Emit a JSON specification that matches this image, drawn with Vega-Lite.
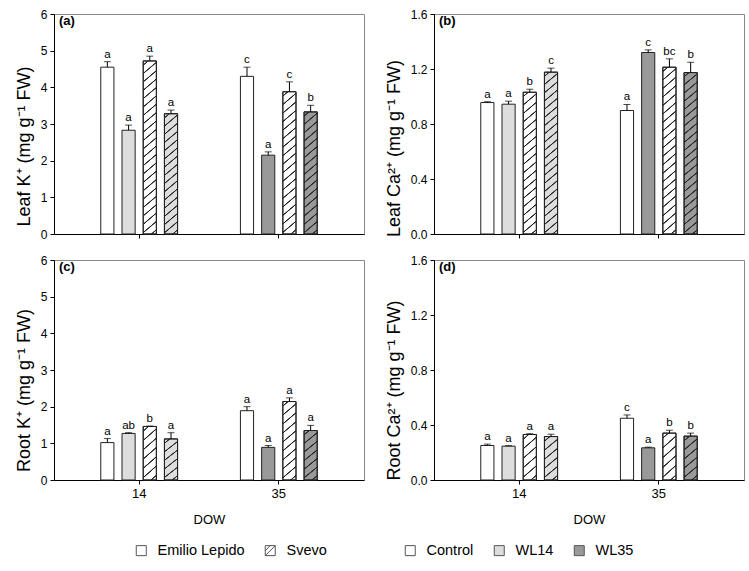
{
"$schema": "https://vega.github.io/schema/vega-lite/v6.json",
"padding": {"left": 14, "top": 7, "right": 11, "bottom": 5},
"params": [
{"name": "h174", "value": {"gradient":"linear","x1":0,"y1":0,"x2":0.06844,"y2":1.06014,"stops":[
{"offset":0.0173,"color":"transparent"},{"offset":0.0208,"color":"#222"},{"offset":0.0246,"color":"#222"},{"offset":0.0281,"color":"transparent"},
{"offset":0.0628,"color":"transparent"},{"offset":0.0663,"color":"#222"},{"offset":0.0701,"color":"#222"},{"offset":0.0736,"color":"transparent"},
{"offset":0.1082,"color":"transparent"},{"offset":0.1117,"color":"#222"},{"offset":0.1155,"color":"#222"},{"offset":0.1190,"color":"transparent"},
{"offset":0.1537,"color":"transparent"},{"offset":0.1572,"color":"#222"},{"offset":0.1610,"color":"#222"},{"offset":0.1645,"color":"transparent"},
{"offset":0.1991,"color":"transparent"},{"offset":0.2026,"color":"#222"},{"offset":0.2064,"color":"#222"},{"offset":0.2099,"color":"transparent"},
{"offset":0.2446,"color":"transparent"},{"offset":0.2481,"color":"#222"},{"offset":0.2519,"color":"#222"},{"offset":0.2554,"color":"transparent"},
{"offset":0.2901,"color":"transparent"},{"offset":0.2936,"color":"#222"},{"offset":0.2974,"color":"#222"},{"offset":0.3009,"color":"transparent"},
{"offset":0.3355,"color":"transparent"},{"offset":0.3390,"color":"#222"},{"offset":0.3428,"color":"#222"},{"offset":0.3463,"color":"transparent"},
{"offset":0.3810,"color":"transparent"},{"offset":0.3845,"color":"#222"},{"offset":0.3883,"color":"#222"},{"offset":0.3918,"color":"transparent"},
{"offset":0.4264,"color":"transparent"},{"offset":0.4299,"color":"#222"},{"offset":0.4337,"color":"#222"},{"offset":0.4372,"color":"transparent"},
{"offset":0.4719,"color":"transparent"},{"offset":0.4754,"color":"#222"},{"offset":0.4792,"color":"#222"},{"offset":0.4827,"color":"transparent"},
{"offset":0.5173,"color":"transparent"},{"offset":0.5208,"color":"#222"},{"offset":0.5246,"color":"#222"},{"offset":0.5281,"color":"transparent"},
{"offset":0.5628,"color":"transparent"},{"offset":0.5663,"color":"#222"},{"offset":0.5701,"color":"#222"},{"offset":0.5736,"color":"transparent"},
{"offset":0.6082,"color":"transparent"},{"offset":0.6117,"color":"#222"},{"offset":0.6155,"color":"#222"},{"offset":0.6190,"color":"transparent"},
{"offset":0.6537,"color":"transparent"},{"offset":0.6572,"color":"#222"},{"offset":0.6610,"color":"#222"},{"offset":0.6645,"color":"transparent"},
{"offset":0.6991,"color":"transparent"},{"offset":0.7026,"color":"#222"},{"offset":0.7064,"color":"#222"},{"offset":0.7099,"color":"transparent"},
{"offset":0.7446,"color":"transparent"},{"offset":0.7481,"color":"#222"},{"offset":0.7519,"color":"#222"},{"offset":0.7554,"color":"transparent"},
{"offset":0.7901,"color":"transparent"},{"offset":0.7936,"color":"#222"},{"offset":0.7974,"color":"#222"},{"offset":0.8009,"color":"transparent"},
{"offset":0.8355,"color":"transparent"},{"offset":0.8390,"color":"#222"},{"offset":0.8428,"color":"#222"},{"offset":0.8463,"color":"transparent"},
{"offset":0.8810,"color":"transparent"},{"offset":0.8845,"color":"#222"},{"offset":0.8883,"color":"#222"},{"offset":0.8918,"color":"transparent"},
{"offset":0.9264,"color":"transparent"},{"offset":0.9299,"color":"#222"},{"offset":0.9337,"color":"#222"},{"offset":0.9372,"color":"transparent"},
{"offset":0.9719,"color":"transparent"},{"offset":0.9754,"color":"#222"},{"offset":0.9792,"color":"#222"},{"offset":0.9827,"color":"transparent"}]}},
{"name": "h164", "value": {"gradient":"linear","x1":0,"y1":0,"x2":0.07262,"y2":1.06333,"stops":[
{"offset":0.0181,"color":"transparent"},{"offset":0.0218,"color":"#222"},{"offset":0.0258,"color":"#222"},{"offset":0.0295,"color":"transparent"},
{"offset":0.0657,"color":"transparent"},{"offset":0.0694,"color":"#222"},{"offset":0.0734,"color":"#222"},{"offset":0.0771,"color":"transparent"},
{"offset":0.1134,"color":"transparent"},{"offset":0.1171,"color":"#222"},{"offset":0.1211,"color":"#222"},{"offset":0.1248,"color":"transparent"},
{"offset":0.1610,"color":"transparent"},{"offset":0.1647,"color":"#222"},{"offset":0.1687,"color":"#222"},{"offset":0.1724,"color":"transparent"},
{"offset":0.2086,"color":"transparent"},{"offset":0.2123,"color":"#222"},{"offset":0.2163,"color":"#222"},{"offset":0.2200,"color":"transparent"},
{"offset":0.2562,"color":"transparent"},{"offset":0.2599,"color":"#222"},{"offset":0.2639,"color":"#222"},{"offset":0.2676,"color":"transparent"},
{"offset":0.3038,"color":"transparent"},{"offset":0.3075,"color":"#222"},{"offset":0.3115,"color":"#222"},{"offset":0.3152,"color":"transparent"},
{"offset":0.3514,"color":"transparent"},{"offset":0.3551,"color":"#222"},{"offset":0.3591,"color":"#222"},{"offset":0.3628,"color":"transparent"},
{"offset":0.3991,"color":"transparent"},{"offset":0.4028,"color":"#222"},{"offset":0.4068,"color":"#222"},{"offset":0.4105,"color":"transparent"},
{"offset":0.4467,"color":"transparent"},{"offset":0.4504,"color":"#222"},{"offset":0.4544,"color":"#222"},{"offset":0.4581,"color":"transparent"},
{"offset":0.4943,"color":"transparent"},{"offset":0.4980,"color":"#222"},{"offset":0.5020,"color":"#222"},{"offset":0.5057,"color":"transparent"},
{"offset":0.5419,"color":"transparent"},{"offset":0.5456,"color":"#222"},{"offset":0.5496,"color":"#222"},{"offset":0.5533,"color":"transparent"},
{"offset":0.5895,"color":"transparent"},{"offset":0.5932,"color":"#222"},{"offset":0.5972,"color":"#222"},{"offset":0.6009,"color":"transparent"},
{"offset":0.6372,"color":"transparent"},{"offset":0.6409,"color":"#222"},{"offset":0.6449,"color":"#222"},{"offset":0.6486,"color":"transparent"},
{"offset":0.6848,"color":"transparent"},{"offset":0.6885,"color":"#222"},{"offset":0.6925,"color":"#222"},{"offset":0.6962,"color":"transparent"},
{"offset":0.7324,"color":"transparent"},{"offset":0.7361,"color":"#222"},{"offset":0.7401,"color":"#222"},{"offset":0.7438,"color":"transparent"},
{"offset":0.7800,"color":"transparent"},{"offset":0.7837,"color":"#222"},{"offset":0.7877,"color":"#222"},{"offset":0.7914,"color":"transparent"},
{"offset":0.8276,"color":"transparent"},{"offset":0.8313,"color":"#222"},{"offset":0.8353,"color":"#222"},{"offset":0.8390,"color":"transparent"},
{"offset":0.8753,"color":"transparent"},{"offset":0.8790,"color":"#222"},{"offset":0.8830,"color":"#222"},{"offset":0.8867,"color":"transparent"},
{"offset":0.9229,"color":"transparent"},{"offset":0.9266,"color":"#222"},{"offset":0.9306,"color":"#222"},{"offset":0.9343,"color":"transparent"},
{"offset":0.9705,"color":"transparent"},{"offset":0.9742,"color":"#222"},{"offset":0.9782,"color":"#222"},{"offset":0.9819,"color":"transparent"}]}},
{"name": "h142", "value": {"gradient":"linear","x1":0,"y1":0,"x2":0.08438,"y2":1.07207,"stops":[
{"offset":0.0213,"color":"transparent"},{"offset":0.0255,"color":"#222"},{"offset":0.0301,"color":"#222"},{"offset":0.0343,"color":"transparent"},
{"offset":0.0768,"color":"transparent"},{"offset":0.0810,"color":"#222"},{"offset":0.0856,"color":"#222"},{"offset":0.0898,"color":"transparent"},
{"offset":0.1324,"color":"transparent"},{"offset":0.1366,"color":"#222"},{"offset":0.1412,"color":"#222"},{"offset":0.1454,"color":"transparent"},
{"offset":0.1879,"color":"transparent"},{"offset":0.1921,"color":"#222"},{"offset":0.1967,"color":"#222"},{"offset":0.2009,"color":"transparent"},
{"offset":0.2435,"color":"transparent"},{"offset":0.2477,"color":"#222"},{"offset":0.2523,"color":"#222"},{"offset":0.2565,"color":"transparent"},
{"offset":0.2991,"color":"transparent"},{"offset":0.3033,"color":"#222"},{"offset":0.3079,"color":"#222"},{"offset":0.3121,"color":"transparent"},
{"offset":0.3546,"color":"transparent"},{"offset":0.3588,"color":"#222"},{"offset":0.3634,"color":"#222"},{"offset":0.3676,"color":"transparent"},
{"offset":0.4102,"color":"transparent"},{"offset":0.4144,"color":"#222"},{"offset":0.4190,"color":"#222"},{"offset":0.4232,"color":"transparent"},
{"offset":0.4657,"color":"transparent"},{"offset":0.4699,"color":"#222"},{"offset":0.4745,"color":"#222"},{"offset":0.4787,"color":"transparent"},
{"offset":0.5213,"color":"transparent"},{"offset":0.5255,"color":"#222"},{"offset":0.5301,"color":"#222"},{"offset":0.5343,"color":"transparent"},
{"offset":0.5768,"color":"transparent"},{"offset":0.5810,"color":"#222"},{"offset":0.5856,"color":"#222"},{"offset":0.5898,"color":"transparent"},
{"offset":0.6324,"color":"transparent"},{"offset":0.6366,"color":"#222"},{"offset":0.6412,"color":"#222"},{"offset":0.6454,"color":"transparent"},
{"offset":0.6879,"color":"transparent"},{"offset":0.6921,"color":"#222"},{"offset":0.6967,"color":"#222"},{"offset":0.7009,"color":"transparent"},
{"offset":0.7435,"color":"transparent"},{"offset":0.7477,"color":"#222"},{"offset":0.7523,"color":"#222"},{"offset":0.7565,"color":"transparent"},
{"offset":0.7991,"color":"transparent"},{"offset":0.8033,"color":"#222"},{"offset":0.8079,"color":"#222"},{"offset":0.8121,"color":"transparent"},
{"offset":0.8546,"color":"transparent"},{"offset":0.8588,"color":"#222"},{"offset":0.8634,"color":"#222"},{"offset":0.8676,"color":"transparent"},
{"offset":0.9102,"color":"transparent"},{"offset":0.9144,"color":"#222"},{"offset":0.9190,"color":"#222"},{"offset":0.9232,"color":"transparent"},
{"offset":0.9657,"color":"transparent"},{"offset":0.9699,"color":"#222"},{"offset":0.9745,"color":"#222"},{"offset":0.9787,"color":"transparent"}]}},
{"name": "h121", "value": {"gradient":"linear","x1":0,"y1":0,"x2":0.09983,"y2":1.08298,"stops":[
{"offset":0.0238,"color":"transparent"},{"offset":0.0287,"color":"#222"},{"offset":0.0339,"color":"#222"},{"offset":0.0388,"color":"transparent"},
{"offset":0.0863,"color":"transparent"},{"offset":0.0912,"color":"#222"},{"offset":0.0964,"color":"#222"},{"offset":0.1013,"color":"transparent"},
{"offset":0.1488,"color":"transparent"},{"offset":0.1537,"color":"#222"},{"offset":0.1589,"color":"#222"},{"offset":0.1638,"color":"transparent"},
{"offset":0.2113,"color":"transparent"},{"offset":0.2162,"color":"#222"},{"offset":0.2214,"color":"#222"},{"offset":0.2263,"color":"transparent"},
{"offset":0.2738,"color":"transparent"},{"offset":0.2787,"color":"#222"},{"offset":0.2839,"color":"#222"},{"offset":0.2888,"color":"transparent"},
{"offset":0.3363,"color":"transparent"},{"offset":0.3412,"color":"#222"},{"offset":0.3464,"color":"#222"},{"offset":0.3513,"color":"transparent"},
{"offset":0.3988,"color":"transparent"},{"offset":0.4037,"color":"#222"},{"offset":0.4089,"color":"#222"},{"offset":0.4138,"color":"transparent"},
{"offset":0.4613,"color":"transparent"},{"offset":0.4662,"color":"#222"},{"offset":0.4714,"color":"#222"},{"offset":0.4763,"color":"transparent"},
{"offset":0.5238,"color":"transparent"},{"offset":0.5287,"color":"#222"},{"offset":0.5339,"color":"#222"},{"offset":0.5388,"color":"transparent"},
{"offset":0.5863,"color":"transparent"},{"offset":0.5912,"color":"#222"},{"offset":0.5964,"color":"#222"},{"offset":0.6013,"color":"transparent"},
{"offset":0.6488,"color":"transparent"},{"offset":0.6537,"color":"#222"},{"offset":0.6589,"color":"#222"},{"offset":0.6638,"color":"transparent"},
{"offset":0.7113,"color":"transparent"},{"offset":0.7162,"color":"#222"},{"offset":0.7214,"color":"#222"},{"offset":0.7263,"color":"transparent"},
{"offset":0.7738,"color":"transparent"},{"offset":0.7787,"color":"#222"},{"offset":0.7839,"color":"#222"},{"offset":0.7888,"color":"transparent"},
{"offset":0.8363,"color":"transparent"},{"offset":0.8412,"color":"#222"},{"offset":0.8464,"color":"#222"},{"offset":0.8513,"color":"transparent"},
{"offset":0.8988,"color":"transparent"},{"offset":0.9037,"color":"#222"},{"offset":0.9089,"color":"#222"},{"offset":0.9138,"color":"transparent"},
{"offset":0.9613,"color":"transparent"},{"offset":0.9662,"color":"#222"},{"offset":0.9714,"color":"#222"},{"offset":0.9763,"color":"transparent"}]}},
{"name": "h79", "value": {"gradient":"linear","x1":0,"y1":0,"x2":0.15956,"y2":1.11975,"stops":[
{"offset":0.0389,"color":"transparent"},{"offset":0.0461,"color":"#222"},{"offset":0.0539,"color":"#222"},{"offset":0.0611,"color":"transparent"},
{"offset":0.1389,"color":"transparent"},{"offset":0.1461,"color":"#222"},{"offset":0.1539,"color":"#222"},{"offset":0.1611,"color":"transparent"},
{"offset":0.2389,"color":"transparent"},{"offset":0.2461,"color":"#222"},{"offset":0.2539,"color":"#222"},{"offset":0.2611,"color":"transparent"},
{"offset":0.3389,"color":"transparent"},{"offset":0.3461,"color":"#222"},{"offset":0.3539,"color":"#222"},{"offset":0.3611,"color":"transparent"},
{"offset":0.4389,"color":"transparent"},{"offset":0.4461,"color":"#222"},{"offset":0.4539,"color":"#222"},{"offset":0.4611,"color":"transparent"},
{"offset":0.5389,"color":"transparent"},{"offset":0.5461,"color":"#222"},{"offset":0.5539,"color":"#222"},{"offset":0.5611,"color":"transparent"},
{"offset":0.6389,"color":"transparent"},{"offset":0.6461,"color":"#222"},{"offset":0.6539,"color":"#222"},{"offset":0.6611,"color":"transparent"},
{"offset":0.7389,"color":"transparent"},{"offset":0.7461,"color":"#222"},{"offset":0.7539,"color":"#222"},{"offset":0.7611,"color":"transparent"},
{"offset":0.8389,"color":"transparent"},{"offset":0.8461,"color":"#222"},{"offset":0.8539,"color":"#222"},{"offset":0.8611,"color":"transparent"},
{"offset":0.9389,"color":"transparent"},{"offset":0.9461,"color":"#222"},{"offset":0.9539,"color":"#222"},{"offset":0.9611,"color":"transparent"}]}},
{"name": "h52", "value": {"gradient":"linear","x1":0,"y1":0,"x2":0.25176,"y2":1.16213,"stops":[
{"offset":0.0555,"color":"transparent"},{"offset":0.0658,"color":"#222"},{"offset":0.0770,"color":"#222"},{"offset":0.0873,"color":"transparent"},
{"offset":0.1984,"color":"transparent"},{"offset":0.2087,"color":"#222"},{"offset":0.2199,"color":"#222"},{"offset":0.2302,"color":"transparent"},
{"offset":0.3412,"color":"transparent"},{"offset":0.3515,"color":"#222"},{"offset":0.3627,"color":"#222"},{"offset":0.3730,"color":"transparent"},
{"offset":0.4841,"color":"transparent"},{"offset":0.4944,"color":"#222"},{"offset":0.5056,"color":"#222"},{"offset":0.5159,"color":"transparent"},
{"offset":0.6270,"color":"transparent"},{"offset":0.6373,"color":"#222"},{"offset":0.6485,"color":"#222"},{"offset":0.6588,"color":"transparent"},
{"offset":0.7698,"color":"transparent"},{"offset":0.7801,"color":"#222"},{"offset":0.7913,"color":"#222"},{"offset":0.8016,"color":"transparent"},
{"offset":0.9127,"color":"transparent"},{"offset":0.9230,"color":"#222"},{"offset":0.9342,"color":"#222"},{"offset":0.9445,"color":"transparent"}]}},
{"name": "h45", "value": {"gradient":"linear","x1":0,"y1":0,"x2":0.29627,"y2":1.17716,"stops":[
{"offset":0.0653,"color":"transparent"},{"offset":0.0770,"color":"#222"},{"offset":0.0896,"color":"#222"},{"offset":0.1013,"color":"transparent"},
{"offset":0.2320,"color":"transparent"},{"offset":0.2437,"color":"#222"},{"offset":0.2563,"color":"#222"},{"offset":0.2680,"color":"transparent"},
{"offset":0.3987,"color":"transparent"},{"offset":0.4104,"color":"#222"},{"offset":0.4230,"color":"#222"},{"offset":0.4347,"color":"transparent"},
{"offset":0.5653,"color":"transparent"},{"offset":0.5770,"color":"#222"},{"offset":0.5896,"color":"#222"},{"offset":0.6013,"color":"transparent"},
{"offset":0.7320,"color":"transparent"},{"offset":0.7437,"color":"#222"},{"offset":0.7563,"color":"#222"},{"offset":0.7680,"color":"transparent"},
{"offset":0.8987,"color":"transparent"},{"offset":0.9104,"color":"#222"},{"offset":0.9230,"color":"#222"},{"offset":0.9347,"color":"transparent"}]}}
],
"data": {"values": [
{"p":"a","dow":"14","slot":"EL-C","cult":"Emilio Lepido","trt":"Control","v":4.55,"hi":4.70,"lab":"a"},
{"p":"a","dow":"14","slot":"EL-WL","cult":"Emilio Lepido","trt":"WL14","v":2.83,"hi":2.97,"lab":"a"},
{"p":"a","dow":"14","slot":"SV-C","cult":"Svevo","trt":"Control","v":4.72,"hi":4.85,"lab":"a"},
{"p":"a","dow":"14","slot":"SV-WL","cult":"Svevo","trt":"WL14","v":3.28,"hi":3.38,"lab":"a"},
{"p":"a","dow":"35","slot":"EL-C","cult":"Emilio Lepido","trt":"Control","v":4.30,"hi":4.55,"lab":"c"},
{"p":"a","dow":"35","slot":"EL-WL","cult":"Emilio Lepido","trt":"WL35","v":2.15,"hi":2.24,"lab":"a"},
{"p":"a","dow":"35","slot":"SV-C","cult":"Svevo","trt":"Control","v":3.88,"hi":4.15,"lab":"c"},
{"p":"a","dow":"35","slot":"SV-WL","cult":"Svevo","trt":"WL35","v":3.33,"hi":3.51,"lab":"b"},
{"p":"b","dow":"14","slot":"EL-C","cult":"Emilio Lepido","trt":"Control","v":0.956,"hi":0.962,"lab":"a"},
{"p":"b","dow":"14","slot":"EL-WL","cult":"Emilio Lepido","trt":"WL14","v":0.944,"hi":0.966,"lab":"a"},
{"p":"b","dow":"14","slot":"SV-C","cult":"Svevo","trt":"Control","v":1.031,"hi":1.053,"lab":"b"},
{"p":"b","dow":"14","slot":"SV-WL","cult":"Svevo","trt":"WL14","v":1.177,"hi":1.206,"lab":"c"},
{"p":"b","dow":"35","slot":"EL-C","cult":"Emilio Lepido","trt":"Control","v":0.898,"hi":0.942,"lab":"a"},
{"p":"b","dow":"35","slot":"EL-WL","cult":"Emilio Lepido","trt":"WL35","v":1.320,"hi":1.339,"lab":"c"},
{"p":"b","dow":"35","slot":"SV-C","cult":"Svevo","trt":"Control","v":1.213,"hi":1.274,"lab":"bc"},
{"p":"b","dow":"35","slot":"SV-WL","cult":"Svevo","trt":"WL35","v":1.174,"hi":1.249,"lab":"b"},
{"p":"c","dow":"14","slot":"EL-C","cult":"Emilio Lepido","trt":"Control","v":1.02,"hi":1.13,"lab":"a"},
{"p":"c","dow":"14","slot":"EL-WL","cult":"Emilio Lepido","trt":"WL14","v":1.27,"hi":1.29,"lab":"ab"},
{"p":"c","dow":"14","slot":"SV-C","cult":"Svevo","trt":"Control","v":1.46,"hi":1.47,"lab":"b"},
{"p":"c","dow":"14","slot":"SV-WL","cult":"Svevo","trt":"WL14","v":1.12,"hi":1.29,"lab":"a"},
{"p":"c","dow":"35","slot":"EL-C","cult":"Emilio Lepido","trt":"Control","v":1.89,"hi":2.00,"lab":"a"},
{"p":"c","dow":"35","slot":"EL-WL","cult":"Emilio Lepido","trt":"WL35","v":0.89,"hi":0.94,"lab":"a"},
{"p":"c","dow":"35","slot":"SV-C","cult":"Svevo","trt":"Control","v":2.14,"hi":2.24,"lab":"a"},
{"p":"c","dow":"35","slot":"SV-WL","cult":"Svevo","trt":"WL35","v":1.35,"hi":1.49,"lab":"a"},
{"p":"d","dow":"14","slot":"EL-C","cult":"Emilio Lepido","trt":"Control","v":0.251,"hi":0.261,"lab":"a"},
{"p":"d","dow":"14","slot":"EL-WL","cult":"Emilio Lepido","trt":"WL14","v":0.246,"hi":0.250,"lab":"a"},
{"p":"d","dow":"14","slot":"SV-C","cult":"Svevo","trt":"Control","v":0.331,"hi":0.337,"lab":"a"},
{"p":"d","dow":"14","slot":"SV-WL","cult":"Svevo","trt":"WL14","v":0.316,"hi":0.333,"lab":"a"},
{"p":"d","dow":"35","slot":"EL-C","cult":"Emilio Lepido","trt":"Control","v":0.449,"hi":0.473,"lab":"c"},
{"p":"d","dow":"35","slot":"EL-WL","cult":"Emilio Lepido","trt":"WL35","v":0.234,"hi":0.239,"lab":"a"},
{"p":"d","dow":"35","slot":"SV-C","cult":"Svevo","trt":"Control","v":0.341,"hi":0.362,"lab":"b"},
{"p":"d","dow":"35","slot":"SV-WL","cult":"Svevo","trt":"WL35","v":0.319,"hi":0.341,"lab":"b"}
]},
"spacing": 12,
"vconcat": [
{"hconcat": [
{"width": 310, "height": 220,
 "title": {"text": "(a)", "anchor": "start", "frame": "group", "offset": -20, "dx": 5, "baseline": "top", "fontSize": 13, "fontWeight": "bold"},
 "transform": [{"filter": "datum.p == 'a'"}],
 "encoding": {
  "x": {"field": "dow", "type": "nominal", "scale": {"paddingInner": 0.45, "paddingOuter": 0.335}, "axis": {"labels": false, "title": null}},
  "xOffset": {"field": "slot", "type": "nominal", "scale": {"domain": ["EL-C","EL-WL","SV-C","SV-WL"], "paddingInner": 0.38, "paddingOuter": 0}},
  "y": {"field": "v", "type": "quantitative", "title": "Leaf K⁺ (mg g⁻¹ FW)", "scale": {"domain": [0, 6], "nice": false}, "axis": {"values": [0,1,2,3,4,5,6], "titleY": 132}}
 },
 "layer": [
  {"mark": {"type": "bar", "stroke": "#222", "strokeWidth": 1},
   "encoding": {"fill": {"field": "trt", "type": "nominal", "scale": {"domain": ["Control","WL14","WL35"], "range": ["#ffffff","#dddddd","#999999"]}, "legend": {"title": null, "orient": "none", "legendX": 349, "legendY": 529, "direction": "horizontal"}}}},
  {"transform": [{"filter": "datum.cult == 'Svevo'"}],
   "mark": {"type": "bar", "stroke": "#222", "strokeWidth": 1},
   "encoding": {"fill": {"condition": [{"test": "datum.v > 4.5", "value": {"expr": "h174"}}, {"test": "datum.v > 3.6", "value": {"expr": "h142"}}], "value": {"expr": "h121"}}}},
  {"mark": {"type": "rule", "color": "#000", "strokeWidth": 1}, "encoding": {"y2": {"field": "hi"}}},
  {"mark": {"type": "tick", "orient": "horizontal", "size": 7, "thickness": 1, "color": "#000"}, "encoding": {"y": {"field": "hi", "type": "quantitative", "title": "Leaf K⁺ (mg g⁻¹ FW)"}}},
  {"mark": {"type": "text", "dy": -4, "baseline": "alphabetic", "fontSize": 11.5, "color": "#000"}, "encoding": {"y": {"field": "hi", "type": "quantitative", "title": "Leaf K⁺ (mg g⁻¹ FW)"}, "text": {"field": "lab"}}},
  {"mark": {"type": "point", "opacity": 0, "filled": false, "color": "#555"},
   "encoding": {"shape": {"field": "cult", "type": "nominal", "scale": {"domain": ["Emilio Lepido","Svevo"], "range": ["square", "M-1,-1H1V1H-1ZM-1,1L1,-1M-1,0L0,-1"]}, "legend": {"title": null, "orient": "none", "legendX": 80, "legendY": 529, "direction": "horizontal"}}}}
 ]},
{"width": 310, "height": 220,
 "title": {"text": "(b)", "anchor": "start", "frame": "group", "offset": -20, "dx": 5, "baseline": "top", "fontSize": 13, "fontWeight": "bold"},
 "transform": [{"filter": "datum.p == 'b'"}],
 "encoding": {
  "x": {"field": "dow", "type": "nominal", "scale": {"paddingInner": 0.45, "paddingOuter": 0.335}, "axis": {"labels": false, "title": null}},
  "xOffset": {"field": "slot", "type": "nominal", "scale": {"domain": ["EL-C","EL-WL","SV-C","SV-WL"], "paddingInner": 0.38, "paddingOuter": 0}},
  "y": {"field": "v", "type": "quantitative", "title": "Leaf Ca²⁺ (mg g⁻¹ FW)", "scale": {"domain": [0, 1.6], "nice": false}, "axis": {"values": [0,0.4,0.8,1.2,1.6], "format": ".1f", "titleY": 134}}
 },
 "layer": [
  {"mark": {"type": "bar", "stroke": "#222", "strokeWidth": 1},
   "encoding": {"fill": {"field": "trt", "type": "nominal", "scale": {"domain": ["Control","WL14","WL35"], "range": ["#ffffff","#dddddd","#999999"]}, "legend": {"title": null, "orient": "none", "legendX": 349, "legendY": 529, "direction": "horizontal"}}}},
  {"transform": [{"filter": "datum.cult == 'Svevo'"}],
   "mark": {"type": "bar", "stroke": "#222", "strokeWidth": 1},
   "encoding": {"fill": {"condition": [{"test": "datum.v > 1.1", "value": {"expr": "h164"}}], "value": {"expr": "h142"}}}},
  {"mark": {"type": "rule", "color": "#000", "strokeWidth": 1}, "encoding": {"y2": {"field": "hi"}}},
  {"mark": {"type": "tick", "orient": "horizontal", "size": 7, "thickness": 1, "color": "#000"}, "encoding": {"y": {"field": "hi", "type": "quantitative", "title": "Leaf Ca²⁺ (mg g⁻¹ FW)"}}},
  {"mark": {"type": "text", "dy": -4, "baseline": "alphabetic", "fontSize": 11.5, "color": "#000"}, "encoding": {"y": {"field": "hi", "type": "quantitative", "title": "Leaf Ca²⁺ (mg g⁻¹ FW)"}, "text": {"field": "lab"}}}
 ]}
], "spacing": 19},
{"hconcat": [
{"width": 310, "height": 220,
 "title": {"text": "(c)", "anchor": "start", "frame": "group", "offset": -20, "dx": 5, "baseline": "top", "fontSize": 13, "fontWeight": "bold"},
 "transform": [{"filter": "datum.p == 'c'"}],
 "encoding": {
  "x": {"field": "dow", "type": "nominal", "scale": {"paddingInner": 0.45, "paddingOuter": 0.335}, "axis": {"labelAngle": 0, "labelFontSize": 13, "labelPadding": 3, "title": "DOW", "titleFontSize": 13, "titlePadding": 13}},
  "xOffset": {"field": "slot", "type": "nominal", "scale": {"domain": ["EL-C","EL-WL","SV-C","SV-WL"], "paddingInner": 0.38, "paddingOuter": 0}},
  "y": {"field": "v", "type": "quantitative", "title": "Root K⁺ (mg g⁻¹ FW)", "scale": {"domain": [0, 6], "nice": false}, "axis": {"values": [0,1,2,3,4,5,6], "titleY": 130}}
 },
 "layer": [
  {"mark": {"type": "bar", "stroke": "#222", "strokeWidth": 1},
   "encoding": {"fill": {"field": "trt", "type": "nominal", "scale": {"domain": ["Control","WL14","WL35"], "range": ["#ffffff","#dddddd","#999999"]}, "legend": {"title": null, "orient": "none", "legendX": 349, "legendY": 529, "direction": "horizontal"}}}},
  {"transform": [{"filter": "datum.cult == 'Svevo'"}],
   "mark": {"type": "bar", "stroke": "#222", "strokeWidth": 1},
   "encoding": {"fill": {"condition": [{"test": "datum.v > 1.8", "value": {"expr": "h79"}}, {"test": "datum.v > 1.3", "value": {"expr": "h52"}}], "value": {"expr": "h45"}}}},
  {"mark": {"type": "rule", "color": "#000", "strokeWidth": 1}, "encoding": {"y2": {"field": "hi"}}},
  {"mark": {"type": "tick", "orient": "horizontal", "size": 7, "thickness": 1, "color": "#000"}, "encoding": {"y": {"field": "hi", "type": "quantitative", "title": "Root K⁺ (mg g⁻¹ FW)"}}},
  {"mark": {"type": "text", "dy": -4, "baseline": "alphabetic", "fontSize": 11.5, "color": "#000"}, "encoding": {"y": {"field": "hi", "type": "quantitative", "title": "Root K⁺ (mg g⁻¹ FW)"}, "text": {"field": "lab"}}}
 ]},
{"width": 310, "height": 220,
 "title": {"text": "(d)", "anchor": "start", "frame": "group", "offset": -20, "dx": 5, "baseline": "top", "fontSize": 13, "fontWeight": "bold"},
 "transform": [{"filter": "datum.p == 'd'"}],
 "encoding": {
  "x": {"field": "dow", "type": "nominal", "scale": {"paddingInner": 0.45, "paddingOuter": 0.335}, "axis": {"labelAngle": 0, "labelFontSize": 13, "labelPadding": 3, "title": "DOW", "titleFontSize": 13, "titlePadding": 13}},
  "xOffset": {"field": "slot", "type": "nominal", "scale": {"domain": ["EL-C","EL-WL","SV-C","SV-WL"], "paddingInner": 0.38, "paddingOuter": 0}},
  "y": {"field": "v", "type": "quantitative", "title": "Root Ca²⁺ (mg g⁻¹ FW)", "scale": {"domain": [0, 1.6], "nice": false}, "axis": {"values": [0,0.4,0.8,1.2,1.6], "format": ".1f", "titleY": 130}}
 },
 "layer": [
  {"mark": {"type": "bar", "stroke": "#222", "strokeWidth": 1},
   "encoding": {"fill": {"field": "trt", "type": "nominal", "scale": {"domain": ["Control","WL14","WL35"], "range": ["#ffffff","#dddddd","#999999"]}, "legend": {"title": null, "orient": "none", "legendX": 349, "legendY": 529, "direction": "horizontal"}}}},
  {"transform": [{"filter": "datum.cult == 'Svevo'"}],
   "mark": {"type": "bar", "stroke": "#222", "strokeWidth": 1},
   "encoding": {"fill": {"value": {"expr": "h45"}}}},
  {"mark": {"type": "rule", "color": "#000", "strokeWidth": 1}, "encoding": {"y2": {"field": "hi"}}},
  {"mark": {"type": "tick", "orient": "horizontal", "size": 7, "thickness": 1, "color": "#000"}, "encoding": {"y": {"field": "hi", "type": "quantitative", "title": "Root Ca²⁺ (mg g⁻¹ FW)"}}},
  {"mark": {"type": "text", "dy": -4, "baseline": "alphabetic", "fontSize": 11.5, "color": "#000"}, "encoding": {"y": {"field": "hi", "type": "quantitative", "title": "Root Ca²⁺ (mg g⁻¹ FW)"}, "text": {"field": "lab"}}}
 ]}
], "spacing": 19}
],
"config": {
 "font": "Liberation Sans",
 "view": {"stroke": "#888", "strokeWidth": 1},
 "axis": {"grid": false, "domainColor": "#000", "tickColor": "#000", "labelColor": "#000", "titleColor": "#000", "titleFontWeight": "normal", "tickSize": 4, "labelFontSize": 12, "labelPadding": 3},
 "axisY": {"titleFontSize": 18, "titlePadding": 7},
 "legend": {"labelFontSize": 14.5, "labelColor": "#000", "symbolSize": 100, "symbolStrokeWidth": 1, "symbolStrokeColor": "#555", "symbolFillColor": "#fff", "columnPadding": 18, "labelOffset": 9, "padding": 0}
}
}
